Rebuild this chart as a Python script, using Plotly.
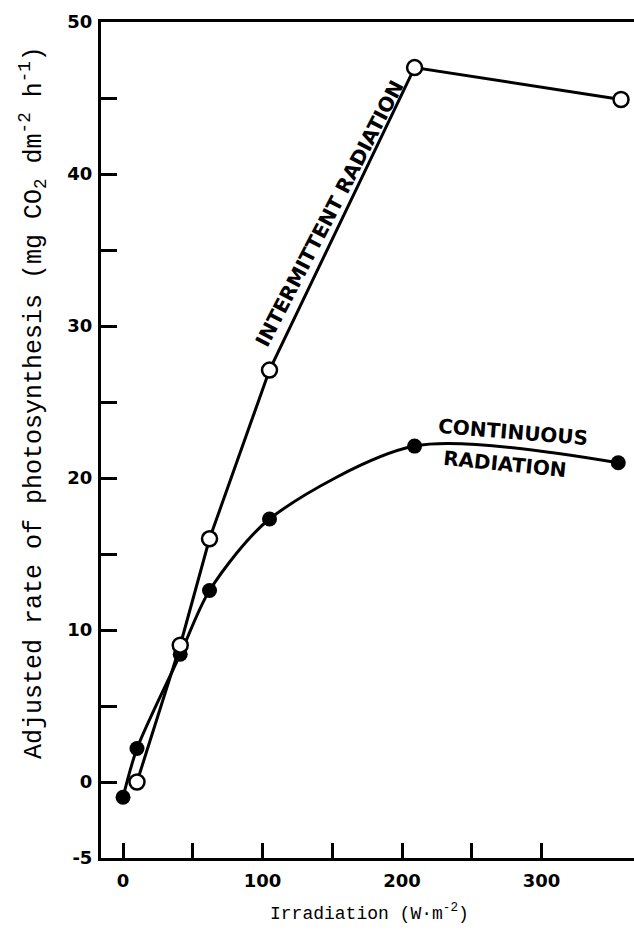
import plotly.graph_objects as go

# Irradiation (W m^-2) and adjusted photosynthesis rate (mg CO2 dm^-2 h^-1)
irr_continuous = [0, 10, 41, 62, 105, 209, 355]
rate_continuous = [-1.0, 2.2, 8.4, 12.6, 17.3, 22.1, 21.0]

irr_intermittent = [10, 41, 62, 105, 209, 357]
rate_intermittent = [0.0, 9.0, 16.0, 27.1, 47.0, 44.9]

y_ticks = [-5, 0, 5, 10, 15, 20, 25, 30, 35, 40, 45, 50]
y_labels = ["-5", "0", "", "10", "", "20", "", "30", "", "40", "", "50"]
x_ticks = [0, 50, 100, 150, 200, 250, 300]
x_labels = ["0", "", "100", "", "200", "", "300"]

tick_font = dict(family="DejaVu Sans", size=18, color="black", weight="bold")
mono = "Liberation Mono"
stencil = dict(family="DejaVu Sans", size=20, color="black", weight="bold")

fig = go.Figure()

fig.add_trace(go.Scatter(
    x=irr_continuous, y=rate_continuous, mode="lines+markers",
    line=dict(shape="spline", smoothing=0.8, width=3, color="black"),
    marker=dict(size=15, color="black"),
    hoverinfo="skip",
))
fig.add_trace(go.Scatter(
    x=irr_intermittent, y=rate_intermittent, mode="lines+markers",
    line=dict(width=3, color="black"),
    marker=dict(size=15, color="white", line=dict(width=2.5, color="black")),
    hoverinfo="skip",
))

fig.update_layout(
    width=634, height=938,
    margin=dict(l=101, r=0, t=22, b=80),
    paper_bgcolor="white", plot_bgcolor="white",
    showlegend=False,
    xaxis=dict(
        range=[-15.8, 366.3], showgrid=False, zeroline=False,
        showline=True, linewidth=3, linecolor="black", mirror=True,
        ticks="inside", ticklen=15, tickwidth=3, tickcolor="black",
        tickvals=x_ticks, ticktext=x_labels, tickfont=tick_font,
        ticklabelstandoff=4,
    ),
    yaxis=dict(
        range=[-5, 50], showgrid=False, zeroline=False,
        showline=True, linewidth=3, linecolor="black",
        ticks="inside", ticklen=16, tickwidth=3, tickcolor="black",
        tickvals=y_ticks, ticktext=y_labels, tickfont=tick_font,
        ticklabelstandoff=2,
    ),
    annotations=[
        dict(text="Irradiation (W\u00b7m<sup>-2</sup>)", xref="paper", yref="paper",
             x=(369 - 101) / 533, y=0, yshift=-54, xanchor="center", yanchor="middle",
             showarrow=False, font=dict(family=mono, size=18, color="black")),
        dict(text="Adjusted rate of photosynthesis (mg CO<sub>2</sub> dm<sup>-2</sup> h<sup>-1</sup>)",
             xref="paper", yref="paper", x=0, xshift=-68, y=(858 - 403) / 836,
             xanchor="center", yanchor="middle",
             textangle=-90, showarrow=False,
             font=dict(family=mono, size=25, color="black")),
        dict(text="INTERMITTENT RADIATION", x=147.7, y=37.4, textangle=-62.5,
             showarrow=False, font=stencil),
        dict(text="CONTINUOUS", x=279.6, y=23.0, textangle=4.7,
             showarrow=False, font=stencil),
        dict(text="RADIATION", x=273.8, y=20.9, textangle=5.7,
             showarrow=False, font=stencil),
    ],
)

fig.write_html("out.html")
